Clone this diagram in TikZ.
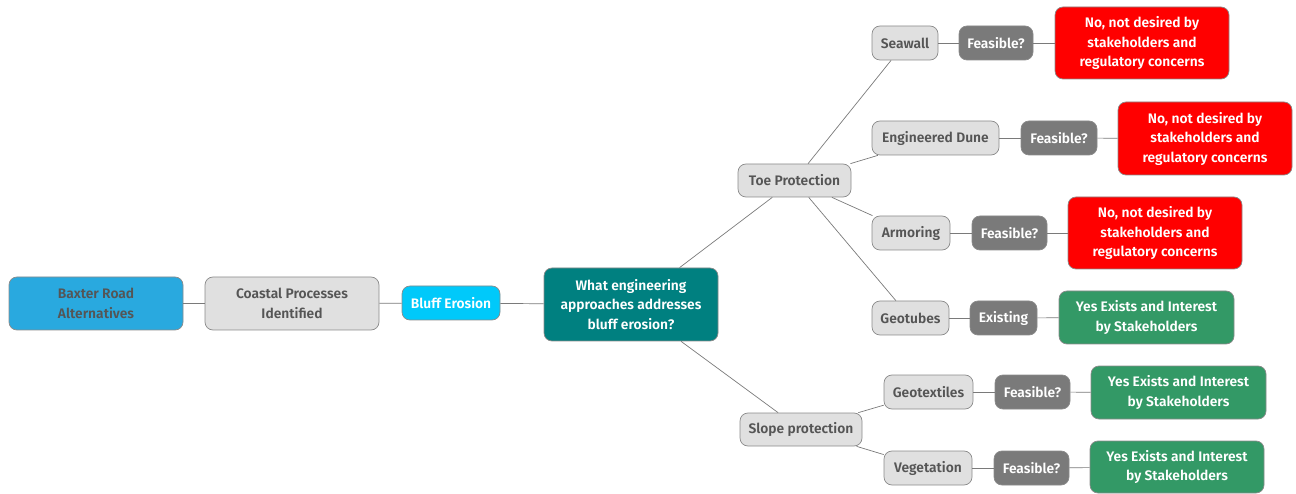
\documentclass[tikz,border=0pt]{standalone}
\usepackage{fontspec}
\setmainfont{Fira Sans}[BoldFont={Fira Sans SemiBold}]
\definecolor{rootblue}{HTML}{29A9DF}
\definecolor{bluffcyan}{HTML}{00C9FA}
\definecolor{teal}{HTML}{008080}
\definecolor{leafgray}{HTML}{E0E0E0}
\definecolor{askgray}{HTML}{7A7A7A}
\definecolor{nored}{HTML}{FF0000}
\definecolor{yesgreen}{HTML}{339966}
\definecolor{inkgray}{HTML}{555555}
\definecolor{edgegray}{HTML}{8A8A8A}
\definecolor{wiregray}{HTML}{7A7A7A}
\tikzset{
  box/.style={rounded corners=8pt, draw=edgegray, line width=0.7pt, align=center,
    inner sep=0pt, font=\bfseries\fontsize{13.8}{19.5}\selectfont},
  sz/.style 2 args={minimum width=#1, minimum height=#2},
  rootbox/.style={box, fill=rootblue, text=inkgray},
  plainbox/.style={box, fill=leafgray, text=inkgray},
  bluffbox/.style={box, fill=bluffcyan, text=white},
  questionbox/.style={box, fill=teal, text=white},
  askbox/.style={box, fill=askgray, text=white},
  nobox/.style={box, fill=nored, text=white},
  yesbox/.style={box, fill=yesgreen, text=white},
  link/.style={draw=wiregray, line width=0.7pt},
}
\begin{document}
\begin{tikzpicture}[x=1pt,y=-1pt]
\useasboundingbox (0,0) rectangle (1296,494);

% main chain
\node[rootbox, sz={174}{53}] (baxter) at (96,303.5) {Baxter Road\\Alternatives};
\node[plainbox, sz={174}{53}] (coastal) at (292,303.5) {Coastal Processes\\Identified};
\node[bluffbox, sz={98}{34}] (bluff) at (451,303) {Bluff Erosion};
\node[questionbox, sz={174}{73}] (question) at (631,304.5) {What engineering\\approaches addresses\\bluff erosion?};

% two approach groups
\node[plainbox, sz={113}{33}] (toe) at (794.5,180.5) {Toe Protection};
\node[plainbox, sz={122}{33}] (slope) at (801,429.5) {Slope protection};

% toe protection options
\node[plainbox, sz={66}{34}] (seawall) at (905,43) {Seawall};
\node[askbox, sz={74}{34}] (seawallq) at (996,43) {Feasible?};
\node[nobox, sz={174}{72}] (seawalla) at (1142,43) {No, not desired by\\stakeholders and\\regulatory concerns};

\node[plainbox, sz={127}{34}] (dune) at (935.5,138) {Engineered Dune};
\node[askbox, sz={76}{34}] (duneq) at (1059,138) {Feasible?};
\node[nobox, sz={174}{73}] (dunea) at (1205,138.5) {No, not desired by\\stakeholders and\\regulatory concerns};

\node[plainbox, sz={78}{34}] (armor) at (911,233) {Armoring};
\node[askbox, sz={75}{34}] (armorq) at (1009.5,233) {Feasible?};
\node[nobox, sz={174}{72}] (armora) at (1155,233) {No, not desired by\\stakeholders and\\regulatory concerns};

\node[plainbox, sz={77}{34}] (geotube) at (910.5,318) {Geotubes};
\node[askbox, sz={67}{34}] (geotubeq) at (1003.5,318) {Existing};
\node[yesbox, sz={175}{53}] (geotubea) at (1146.5,317.5) {Yes Exists and Interest\\by Stakeholders};

% slope protection options
\node[plainbox, sz={89}{34}] (textile) at (928.5,392) {Geotextiles};
\node[askbox, sz={75}{34}] (textileq) at (1032.5,392) {Feasible?};
\node[yesbox, sz={175}{53}] (textilea) at (1178.5,392.5) {Yes Exists and Interest\\by Stakeholders};

\node[plainbox, sz={88}{34}] (veg) at (928,468) {Vegetation};
\node[askbox, sz={75}{34}] (vegq) at (1031.5,468) {Feasible?};
\node[yesbox, sz={174}{52}] (vega) at (1177,467) {Yes Exists and Interest\\by Stakeholders};

% connectors
\draw[link] (baxter) -- (coastal);
\draw[link] (coastal) -- (bluff);
\draw[link] (bluff) -- (question);
\draw[link] (question) -- (toe);
\draw[link] (question) -- (slope);

\draw[link] (toe) -- (seawall);
\draw[link] (toe) -- (dune);
\draw[link] (toe) -- (armor);
\draw[link] (toe) -- (geotube);
\draw[link] (slope) -- (textile);
\draw[link] (slope) -- (veg);

\draw[link] (seawall) -- (seawallq);
\draw[link] (seawallq) -- (seawalla);
\draw[link] (dune) -- (duneq);
\draw[link] (duneq) -- (dunea);
\draw[link] (armor) -- (armorq);
\draw[link] (armorq) -- (armora);
\draw[link] (geotube) -- (geotubeq);
\draw[link] (geotubeq) -- (geotubea);
\draw[link] (textile) -- (textileq);
\draw[link] (textileq) -- (textilea);
\draw[link] (veg) -- (vegq);
\draw[link] (vegq) -- (vega);
\end{tikzpicture}
\end{document}
